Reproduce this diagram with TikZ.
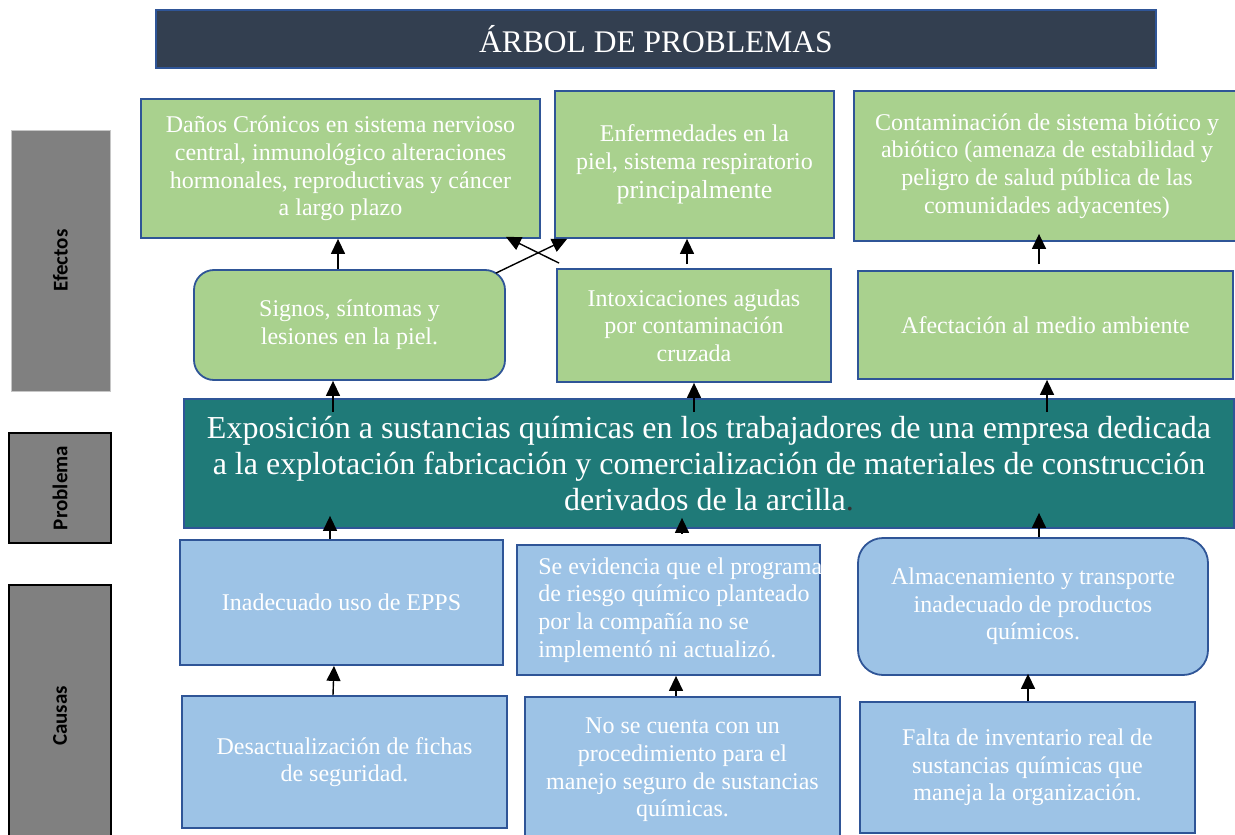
\documentclass[tikz,border=0pt]{standalone}
\usepackage{fontspec}
\setmainfont{Liberation Serif}
\newfontfamily\sidefont{Carlito}
\usetikzlibrary{arrows.meta,calc}
\definecolor{titlebg}{HTML}{333F50}
\definecolor{bord}{HTML}{2F5597}
\definecolor{gfill}{HTML}{A9D18E}
\definecolor{tfill}{HTML}{1F7A78}
\definecolor{bfill}{HTML}{9DC3E6}
\definecolor{sgray}{HTML}{808080}
\begin{document}
\begin{tikzpicture}[x=1pt,y=-1pt,
  box/.style={draw=bord, line width=1.8pt, text=white, align=center, inner sep=0pt,
    font=\fontsize{24}{27.6}\selectfont},
  gbox/.style={box, fill=gfill},
  bbox/.style={box, fill=bfill},
  side/.style={fill=sgray, inner sep=0pt, text=black,
    font=\sidefont\bfseries\fontsize{21}{24}\selectfont},
  arr/.style={line width=1.4pt, -{Triangle[length=15pt,width=14pt]}}]
\useasboundingbox (0,0) rectangle (1235,835);
\clip (0,0) rectangle (1235,835);
\fill[white] (0,0) rectangle (1235,835);

% title
\node[draw=bord, line width=1.5pt, fill=titlebg, text=white, inner sep=0pt,
  minimum width=1000pt, minimum height=58pt,
  font=\fontsize{31.5}{34}\selectfont] (T) at (656,39) {ÁRBOL DE PROBLEMAS};

% side labels
\node[side, draw=gray!45, line width=0.6pt, minimum width=99pt, minimum height=261pt] (SE) at (60.5,260.5) {\rotatebox{90}{Efectos}};
\node[side, draw=black, line width=1.5pt, minimum width=102pt, minimum height=110pt] (SP) at (60,488) {\rotatebox{90}{Problema}};
\node[side, draw=black, line width=1.5pt, minimum width=102pt, minimum height=262pt] (SC) at (60,716) {\rotatebox{90}{Causas}};

% effects, top row
\node[gbox, minimum width=399pt, minimum height=139pt] (E1) at (340.5,168.5)
  {Daños Crónicos en sistema nervioso\\ central, inmunológico alteraciones\\ hormonales, reproductivas y cáncer\\ a largo plazo};
\node[gbox, minimum width=279pt, minimum height=147pt] (E2) at (694.5,164.5)
  {Enfermedades en la\\ piel, sistema respiratorio\\[2pt] {\fontsize{26}{28}\selectfont principalmente}};
\node[gbox, minimum width=386pt, minimum height=150pt] (E3) at (1047,166)
  {Contaminación de sistema biótico y\\ abiótico (amenaza de estabilidad y\\ peligro de salud pública de las\\ comunidades adyacentes)};

% effects, second row
\node[gbox, rounded corners=20pt, minimum width=311pt, minimum height=110pt] (S1) at (349.5,325)
  {Signos, síntomas y\\ lesiones en la piel.};
\node[gbox, minimum width=274pt, minimum height=113pt] (S2) at (694,325.5)
  {Intoxicaciones agudas\\ por contaminación\\ cruzada};
\node[gbox, minimum width=375pt, minimum height=108pt] (S3) at (1045.5,325)
  {Afectación al medio ambiente};

% problem
\node[box, fill=tfill, minimum width=1050pt, minimum height=129pt,
  font=\fontsize{32}{36}\selectfont] (P) at (709,463.5)
  {Exposición a sustancias químicas en los trabajadores de una empresa dedicada\\
   a la explotación fabricación y comercialización de materiales de construcción\\
   derivados de la arcilla{\color{black!80}.}};

% causes, first row
\node[bbox, minimum width=323pt, minimum height=125pt] (C1) at (341.5,602.5)
  {Inadecuado uso de EPPS};
\node[bbox, minimum width=303pt, minimum height=130pt] (C2) at (668.5,610) {};
\node[anchor=west, align=left, text=white, inner sep=0pt,
  font=\fontsize{24}{27.6}\selectfont] (C2t) at ($(C2.west)+(22,0)$)
  {Se evidencia que el programa\\ de riesgo químico planteado\\ por la compañía no se\\ implementó ni actualizó.};
\node[bbox, rounded corners=25pt, minimum width=350pt, minimum height=137pt] (C3) at (1033,606.5)
  {Almacenamiento y transporte\\ inadecuado de productos\\ químicos.};

% causes, second row
\node[bbox, minimum width=325pt, minimum height=132pt] (D1) at (344.5,762)
  {Desactualización de fichas\\ de seguridad.};
\node[bbox, minimum width=315pt, minimum height=146pt] (D2) at (682.5,770)
  {No se cuenta con un\\ procedimiento para el\\ manejo seguro de sustancias\\ químicas.};
\node[bbox, minimum width=335pt, minimum height=131pt] (D3) at (1027.5,767.5)
  {Falta de inventario real de\\ sustancias químicas que\\ maneja la organización.};

% arrows: effects
\draw[arr] (338,0 |- S1.north) -- (338,0 |- E1.south);
\draw[arr] ($(687,0 |- S2.north)+(0,-4)$) -- (687,0 |- E2.south);
\draw[arr] ($(1039,0 |- S3.north)+(0,-6)$) -- ($(1039,0 |- E3.south)+(0,-8)$);
\draw[arr] ($(S1.north east)+(-10,4)$) -- ($(E2.south west)+(13,0)$);
\draw[arr] ($(S2.north west)+(3,-5)$) -- ($(E1.south east)+(-35,-2)$);

% arrows: problem -> effects
\draw[arr] ($(333,0 |- P.north)+(0,14)$) -- (333,0 |- S1.south);
\draw[arr] ($(694,0 |- P.north)+(0,14)$) -- (694,0 |- S2.south);
\draw[arr] ($(1047,0 |- P.north)+(0,14)$) -- (1047,0 |- S3.south);

% arrows: causes -> problem
\draw[arr] (330,0 |- C1.north) -- ($(330,0 |- P.south)+(0,-13)$);
\draw[arr] ($(682,0 |- C2.north)+(0,-10)$) -- ($(682,0 |- P.south)+(0,-11)$);
\draw[arr] (1039,0 |- C3.north) -- ($(1039,0 |- P.south)+(0,-16)$);

% arrows: second-row causes -> first-row causes
\draw[arr] (333,0 |- D1.north) -- (334,0 |- C1.south);
\draw[arr] (676,0 |- D2.north) -- (676,0 |- C2.south);
\draw[arr] (1028,0 |- D3.north) -- ($(1028,0 |- C3.south)+(0,-2)$);
\end{tikzpicture}
\end{document}
